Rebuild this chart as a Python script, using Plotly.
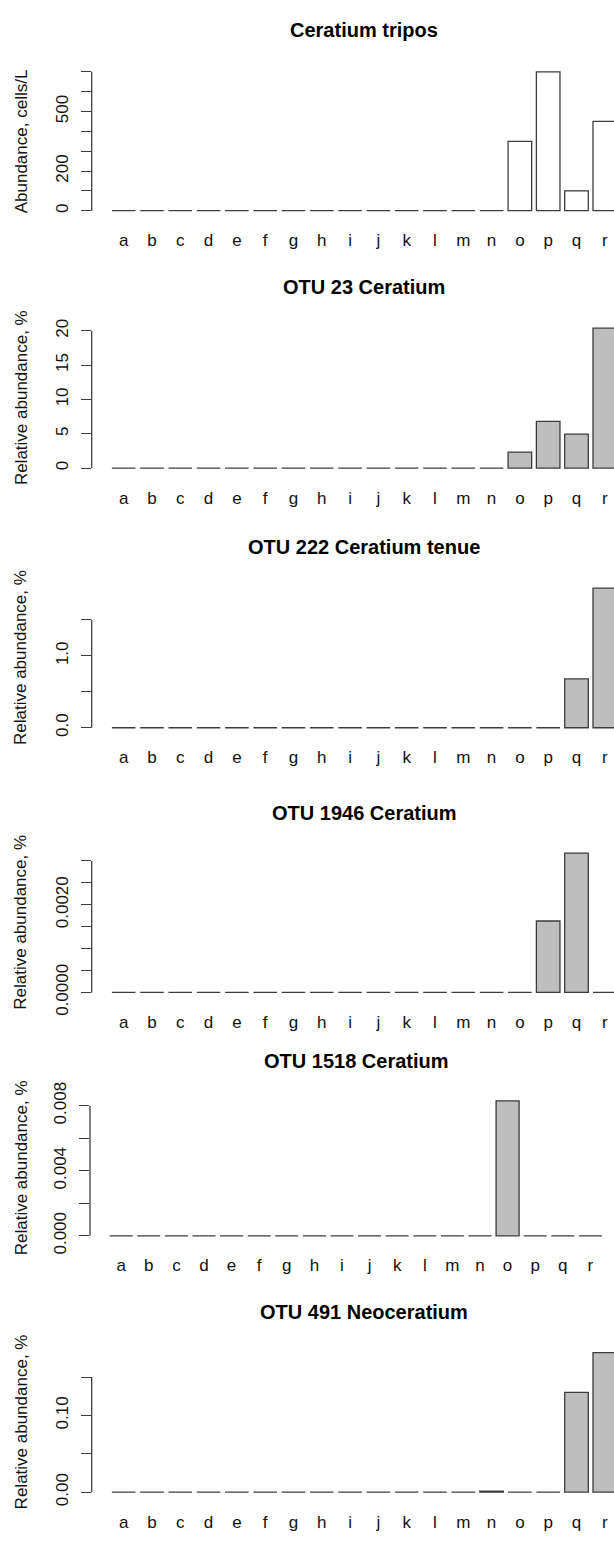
import plotly.graph_objects as go

# ---------------- data ----------------
sites = ["a", "b", "c", "d", "e", "f", "g", "h", "i", "j", "k", "l", "m", "n", "o", "p", "q", "r"]

ceratium_tripos = [0, 0, 0, 0, 0, 0, 0, 0, 0, 0, 0, 0, 0, 0, 350, 700, 100, 450]
otu23_ceratium = [0, 0, 0, 0, 0, 0, 0, 0, 0, 0, 0, 0, 0, 0, 2.33, 6.8, 4.95, 20.38]
otu222_ceratium_tenue = [0, 0, 0, 0, 0, 0, 0, 0, 0, 0, 0, 0, 0, 0, 0, 0, 0.68, 1.94]
otu1946_ceratium = [0, 0, 0, 0, 0, 0, 0, 0, 0, 0, 0, 0, 0, 0, 0, 0.00163, 0.00318, 0]
otu1518_ceratium = [0, 0, 0, 0, 0, 0, 0, 0, 0, 0, 0, 0, 0, 0, 0.0083, 0, 0, 0]
otu491_neoceratium = [0, 0, 0, 0, 0, 0, 0, 0, 0, 0, 0, 0, 0, 0.0015, 0, 0, 0.130, 0.182]

titles = ["Ceratium tripos", "OTU 23 Ceratium", "OTU 222 Ceratium tenue",
          "OTU 1946 Ceratium", "OTU 1518 Ceratium", "OTU 491 Neoceratium"]
ylabels = ["Abundance, cells/L", "Relative abundance, %", "Relative abundance, %",
           "Relative abundance, %", "Relative abundance, %", "Relative abundance, %"]

ticks1 = [0, 100, 200, 300, 400, 500, 600, 700]
labels1 = ["0", "", "200", "", "", "500", "", ""]
ticks2 = [0, 5, 10, 15, 20]
labels2 = ["0", "5", "10", "15", "20"]
ticks3 = [0, 0.5, 1.0, 1.5]
labels3 = ["0.0", "", "1.0", ""]
ticks4 = [0, 0.0005, 0.001, 0.0015, 0.002, 0.0025, 0.003]
labels4 = ["0.0000", "", "", "", "0.0020", "", ""]
ticks5 = [0, 0.002, 0.004, 0.006, 0.008]
labels5 = ["0.000", "", "0.004", "", "0.008"]
ticks6 = [0, 0.05, 0.10, 0.15]
labels6 = ["0.00", "", "0.10", ""]

series = [ceratium_tripos, otu23_ceratium, otu222_ceratium_tenue,
          otu1946_ceratium, otu1518_ceratium, otu491_neoceratium]
tickvals = [ticks1, ticks2, ticks3, ticks4, ticks5, ticks6]
ticktexts = [labels1, labels2, labels3, labels4, labels5, labels6]
fills = ["white", "#bebebe", "#bebebe", "#bebebe", "#bebebe", "#bebebe"]

# ---------------- layout (pixel geometry) ----------------
W, H = 614, 1555
tops = [54.4, 315.9, 581.2, 851.5, 1104.4, 1361.1]
bottoms = [207.4, 470.0, 735.0, 1005.0, 1253.2, 1515.0]
lefts = [91.7, 91.7, 91.7, 91.7, 90.0, 91.7]
pitches = [28.3, 28.3, 28.3, 28.3, 27.6, 28.3]
title_y = [17.5, 280, 545, 816, 1069, 1325]
title_x = [364, 364, 364, 364, 356, 364]

EDGE = "#3c3c3c"
FONT = "Liberation Sans, Arial, Helvetica, sans-serif"
BARW = 1 / 1.2

fig = go.Figure()
axes = {}
shapes = []
annotations = []

for i in range(6):
    k = i + 1
    sfx = "" if k == 1 else str(k)
    xa, ya = "x" + sfx, "y" + sfx
    vals = series[i]
    fig.add_trace(go.Bar(
        x=sites, y=vals, xaxis=xa, yaxis=ya, width=BARW,
        marker=dict(color=fills[i], line=dict(color=EDGE, width=1.3)),
        showlegend=False, hoverinfo="skip"))

    ymax = max(vals)
    left = lefts[i]
    xl = -BARW / 2 - 0.04 * 21.4 / 1.2
    xr = xl + (W - left) / pitches[i]
    axes["xaxis" + sfx] = dict(
        domain=[left / W, 1], range=[xl, xr], anchor=ya, type="category",
        showline=False, ticks="", showgrid=False, zeroline=False,
        tickfont=dict(family=FONT, size=17, color="#111"),
        ticklabelstandoff=12, fixedrange=True)
    axes["yaxis" + sfx] = dict(
        domain=[1 - bottoms[i] / H, 1 - tops[i] / H],
        range=[-0.04 * ymax, 1.04 * ymax], anchor=xa,
        tickmode="array", tickvals=tickvals[i], ticktext=ticktexts[i],
        ticks="outside", ticklen=10, tickwidth=1.3, tickcolor=EDGE,
        tickangle=-90, showline=False, showgrid=False, zeroline=False,
        tickfont=dict(family=FONT, size=17, color="#111"),
        ticklabelstandoff=6, fixedrange=True)
    shapes.append(dict(
        type="line", xref=xa + " domain", yref=ya, x0=0, x1=0,
        y0=tickvals[i][0], y1=tickvals[i][-1],
        line=dict(color=EDGE, width=1.3)))
    annotations.append(dict(
        text="<b>" + titles[i] + "</b>", xref="paper", yref="paper",
        x=title_x[i] / W, y=1 - title_y[i] / H, xanchor="center", yanchor="middle",
        showarrow=False, font=dict(family=FONT, size=20, color="#000")))
    annotations.append(dict(
        text=ylabels[i], xref="paper", yref="paper", textangle=-90,
        x=21 / W, y=1 - (tops[i] + bottoms[i]) / 2 / H,
        xanchor="center", yanchor="middle", showarrow=False,
        font=dict(family=FONT, size=17, color="#111")))

fig.update_layout(
    width=W, height=H, margin=dict(l=0, r=0, t=0, b=0),
    paper_bgcolor="white", plot_bgcolor="white",
    bargap=1 - BARW, shapes=shapes, annotations=annotations, **axes)

fig.write_html("out.html")
